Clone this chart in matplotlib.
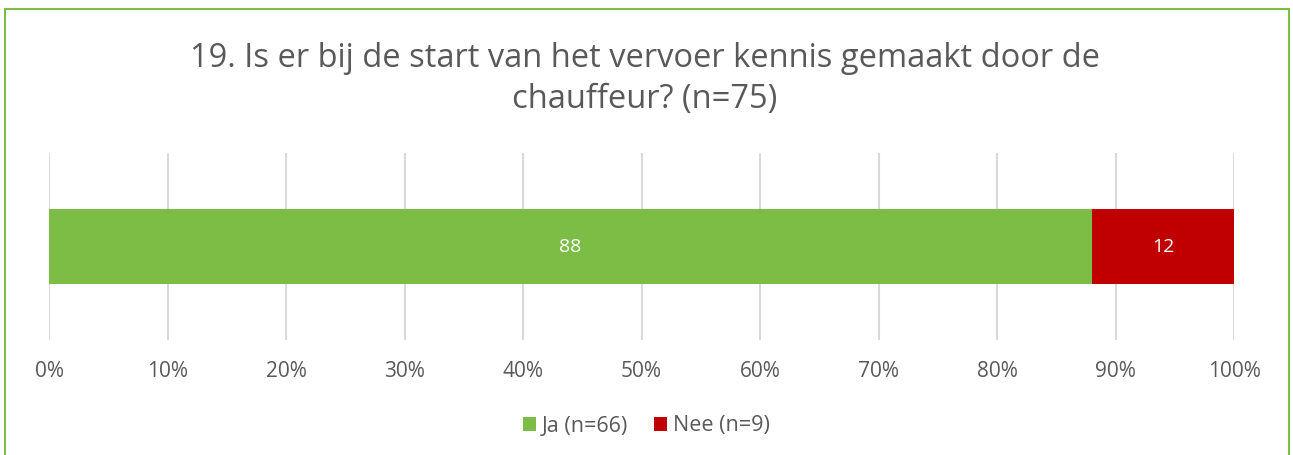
import numpy as np
import matplotlib
matplotlib.use("Agg")
import matplotlib.pyplot as plt
from matplotlib.patches import Rectangle

plt.rcParams['font.family'] = ['Open Sans', 'DejaVu Sans']

# data
title = "19. Is er bij de start van het vervoer kennis gemaakt door de\nchauffeur? (n=75)"
series_names = ["Ja (n=66)", "Nee (n=9)"]
series_values = [88, 12]
series_colors = ["#7CBD45", "#C00000"]
xticks = [0, 10, 20, 30, 40, 50, 60, 70, 80, 90, 100]
xtick_labels = [f"{t}%" for t in xticks]

text_color = "#595959"

fig = plt.figure(figsize=(12.93, 4.55), dpi=100)
ax = fig.add_axes([49 / 1293, 1 - 340 / 455, (1234 - 49) / 1293, (340 - 153) / 455])

left = 0
for name, val, col in zip(series_names, series_values, series_colors):
    ax.barh(0, val, left=left, height=0.4, color=col, label=name, zorder=3)
    ax.text(left + val / 2, 0, str(val), ha="center", va="center",
            color="white", fontsize=14, zorder=4)
    left += val

ax.set_xlim(0, 100)
ax.set_ylim(-0.5, 0.5)
ax.set_xticks(xticks)
ax.set_xticklabels(xtick_labels, fontsize=15, color=text_color)
ax.set_yticks([])
ax.tick_params(axis="x", length=0, pad=15)
ax.grid(axis="x", color="#D9D9D9", linewidth=1.5, zorder=0)
for s in ax.spines.values():
    s.set_visible(False)

fig.text(0.4985, 1 - 79 / 455, title, ha="center", va="center",
         fontsize=23.5, color=text_color, linespacing=1.32)

fig.legend(loc="center", bbox_to_anchor=(0.5, 1 - 426 / 455), ncol=2,
           frameon=False, fontsize=15.5, handlelength=0.6, handleheight=0.6,
           handletextpad=0.3, columnspacing=1.2, labelcolor=text_color)

# outer border (bottom edge falls outside the image)
fig.patches.append(Rectangle((5 / 1293, -0.05), (1289 - 5) / 1293, 1.05 - 9 / 455,
                             transform=fig.transFigure, fill=False,
                             edgecolor="#7CBD45", linewidth=1.5))

fig.savefig("out.png", dpi=100)
